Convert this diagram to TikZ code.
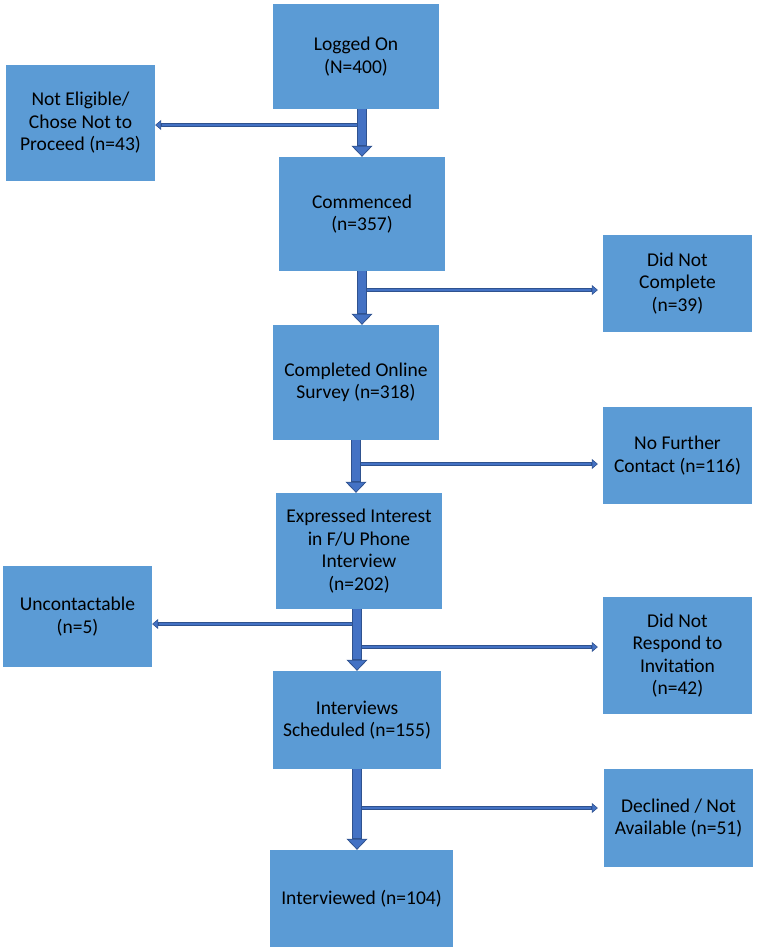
\documentclass[tikz,border=0pt]{standalone}
\usepackage{fontspec}
\setmainfont{Carlito}
\usetikzlibrary{arrows.meta}

\definecolor{boxblue}{HTML}{5B9BD5}
\definecolor{arrowblue}{HTML}{4472C4}
\definecolor{arrowedge}{HTML}{2F528F}

\begin{document}
\begin{tikzpicture}[x=1pt, y=-1pt,
    stage/.style 2 args={rectangle, fill=boxblue, align=center, inner sep=0pt,
        minimum width=#1, minimum height=#2, font=\fontsize{19.5}{22.5}\selectfont},
    fatarrow/.style={draw=arrowedge, line width=10pt,
        -{Triangle[width=21pt, length=11pt, fill=arrowblue, line width=0.8pt]},
        postaction={draw=arrowblue, line width=8pt, -, shorten >=11.5pt}},
    thinarrow/.style={draw=arrowedge, line width=4.5pt,
        -{Triangle[width=10pt, length=6pt, fill=arrowblue, line width=0.6pt]},
        postaction={draw=arrowblue, line width=2.5pt, -, shorten >=6.5pt}}]

    \useasboundingbox (0,0) rectangle (757,951);

    % ==========================================
    % MAIN COLUMN: stages of the survey
    % ==========================================
    \node[stage={166}{105}] (log)  at (356,56.5)  {Logged On\\(N=400)};
    \node[stage={166}{114}] (com)  at (362,214)   {Commenced\\(n=357)};
    \node[stage={166}{115}] (sur)  at (356,382.5) {Completed Online\\Survey (n=318)};
    \node[stage={166}{116}] (int)  at (359,551)   {Expressed Interest\\in F/U Phone\\Interview\\(n=202)};
    \node[stage={168}{98}]  (sch)  at (357,720)   {Interviews\\Scheduled (n=155)};
    \node[stage={183}{97}]  (done) at (361.5,898.5) {Interviewed (n=104)};

    % ==========================================
    % SIDE BOXES: who dropped out
    % ==========================================
    \node[stage={149}{116}] (nel) at (80.5,123)   {Not Eligible/\\Chose Not to\\Proceed (n=43)};
    \node[stage={149}{97}]  (dnc) at (677.5,283.5) {Did Not\\Complete\\(n=39)};
    \node[stage={149}{97}]  (nfc) at (677.5,455.5) {No Further\\Contact (n=116)};
    \node[stage={149}{101}] (unc) at (77.5,616.5)  {Uncontactable\\(n=5)};
    \node[stage={149}{117}] (dnr) at (677.5,655.5) {Did Not\\Respond to\\Invitation\\(n=42)};
    \node[stage={149}{98}]  (dec) at (678.5,818)   {Declined / Not\\Available (n=51)};

    % Branch points on the main arrows
    \coordinate (j1)  at (362,125);
    \coordinate (j2)  at (362,290);
    \coordinate (j3)  at (356,464);
    \coordinate (j4a) at (357,624);
    \coordinate (j4b) at (357,647);
    \coordinate (j5)  at (357,808);

    % Drop-out arrows
    \draw[thinarrow] (j1)  -- (j1 -| nel.east);
    \draw[thinarrow] (j2)  -- ([xshift=-5pt]j2 -| dnc.west);
    \draw[thinarrow] (j3)  -- ([xshift=-5pt]j3 -| nfc.west);
    \draw[thinarrow] (j4a) -- (j4a -| unc.east);
    \draw[thinarrow] (j4b) -- ([xshift=-5pt]j4b -| dnr.west);
    \draw[thinarrow] (j5)  -- ([xshift=-6pt]j5 -| dec.west);

    % Main flow arrows
    \draw[fatarrow] (log.south -| com.north) -- (com.north);
    \draw[fatarrow] (com.south) -- (com.south |- sur.north);
    \draw[fatarrow] (sur.south) -- (sur.south |- int.north);
    \draw[fatarrow] (sch.north |- int.south) -- (sch.north);
    \draw[fatarrow] (sch.south) -- (sch.south |- done.north);

\end{tikzpicture}
\end{document}
